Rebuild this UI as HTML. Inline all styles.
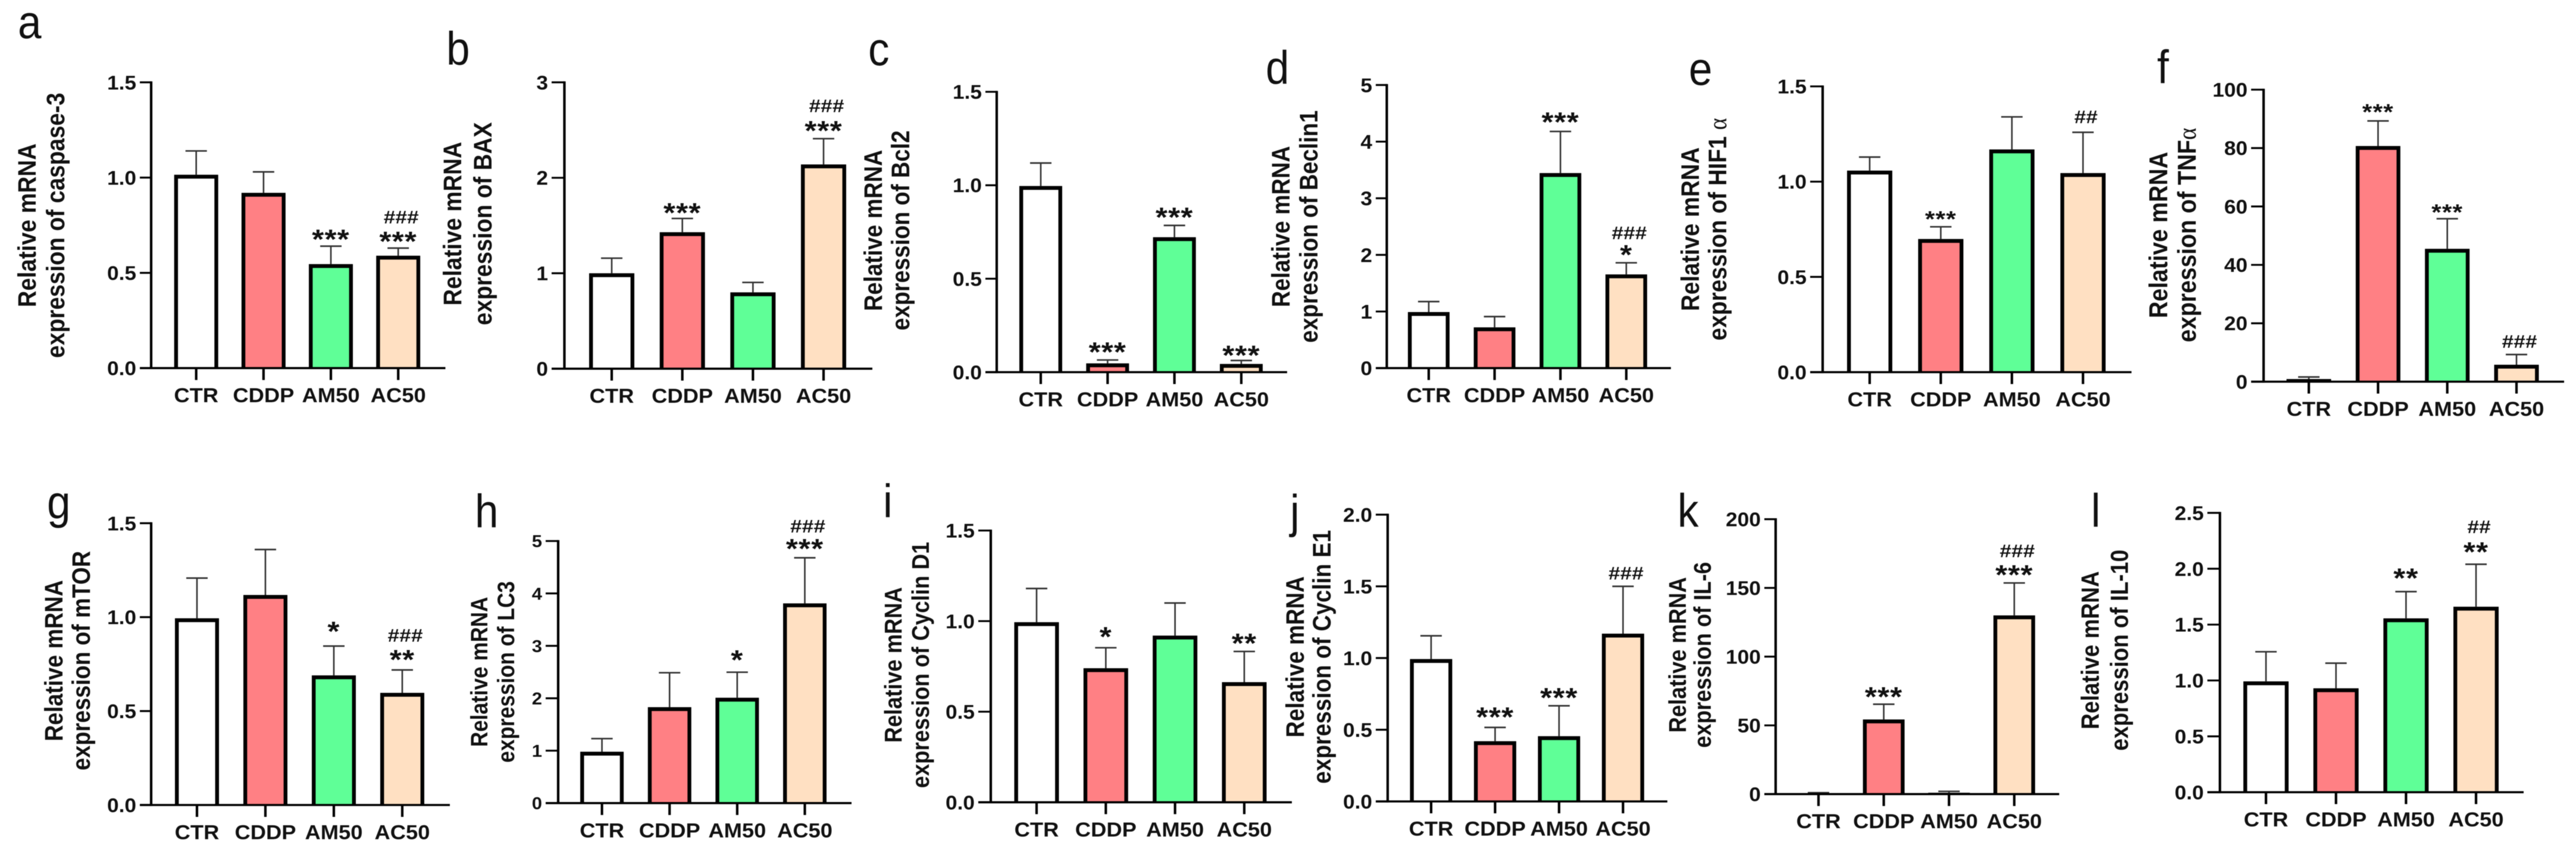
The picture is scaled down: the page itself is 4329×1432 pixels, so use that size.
<!DOCTYPE html>
<html lang="en">
<head>
<meta charset="utf-8">
<title>Relative mRNA expression panels</title>
<style>
  html, body { margin: 0; padding: 0; background: #fff; width: 4329px; height: 1432px; overflow: hidden; }
  svg { display: block; filter: blur(0.6px); }
  text { font-family: "Liberation Sans", sans-serif; fill: #111; }
</style>
</head>
<body>
<svg id="figure" xmlns="http://www.w3.org/2000/svg" width="4329" height="1432" viewBox="0 0 4329 1432"></svg>
<script>
// ---- Data ----
const categories = ['CTR', 'CDDP', 'AM50', 'AC50'];

const ticksA = ['0.0', '0.5', '1.0', '1.5'];
const valuesA = [1.015, 0.92, 0.546, 0.59];
const whiskersA = [1.14, 1.03, 0.64, 0.63];
const starsA = ['', '', '***', '***'];
const hashesA = ['', '', '', '###'];

const ticksB = ['0', '1', '2', '3'];
const valuesB = [1.0, 1.43, 0.80, 2.14];
const whiskersB = [1.158, 1.574, 0.904, 2.41];
const starsB = ['', '***', '', '***'];
const hashesB = ['', '', '', '###'];

const ticksC = ['0.0', '0.5', '1.0', '1.5'];
const valuesC = [0.996, 0.047, 0.722, 0.044];
const whiskersC = [1.119, 0.065, 0.785, 0.0625];
const starsC = ['', '***', '***', '***'];
const hashesC = ['', '', '', ''];

const ticksD = ['0', '1', '2', '3', '4', '5'];
const valuesD = [0.99, 0.72, 3.445, 1.655];
const whiskersD = [1.175, 0.91, 4.18, 1.86];
const starsD = ['', '', '***', '*'];
const hashesD = ['', '', '', '###'];

const ticksE = ['0.0', '0.5', '1.0', '1.5'];
const valuesE = [1.058, 0.699, 1.169, 1.045];
const whiskersE = [1.129, 0.763, 1.34, 1.259];
const starsE = ['', '***', '', ''];
const hashesE = ['', '', '', '##'];

const ticksF = ['0', '20', '40', '60', '80', '100'];
const valuesF = [0.9, 80.7, 45.5, 5.8];
const whiskersF = [1.6, 89.3, 55.8, 9.3];
const starsF = ['', '***', '***', ''];
const hashesF = ['', '', '', '###'];

const ticksG = ['0.0', '0.5', '1.0', '1.5'];
const valuesG = [0.994, 1.118, 0.69, 0.597];
const whiskersG = [1.208, 1.36, 0.846, 0.719];
const starsG = ['', '', '*', '**'];
const hashesG = ['', '', '', '###'];

const ticksH = ['0', '1', '2', '3', '4', '5'];
const valuesH = [0.98, 1.83, 2.01, 3.81];
const whiskersH = [1.23, 2.487, 2.497, 4.68];
const starsH = ['', '', '*', '***'];
const hashesH = ['', '', '', '###'];

const ticksI = ['0.0', '0.5', '1.0', '1.5'];
const valuesI = [0.994, 0.74, 0.92, 0.663];
const whiskersI = [1.18, 0.853, 1.10, 0.8325];
const starsI = ['', '*', '', '**'];
const hashesI = ['', '', '', ''];

const ticksJ = ['0.0', '0.5', '1.0', '1.5', '2.0'];
const valuesJ = [0.993, 0.42, 0.455, 1.17];
const whiskersJ = [1.155, 0.516, 0.667, 1.50];
const starsJ = ['', '***', '***', ''];
const hashesJ = ['', '', '', '###'];

const ticksK = ['0', '50', '100', '150', '200'];
const valuesK = [0.6, 54.3, 1.0, 130];
const whiskersK = [1.0, 65.4, 2.0, 153.6];
const starsK = ['', '***', '', '***'];
const hashesK = ['', '', '', '###'];

const ticksL = ['0.0', '0.5', '1.0', '1.5', '2.0', '2.5'];
const valuesL = [0.992, 0.93, 1.556, 1.66];
const whiskersL = [1.257, 1.155, 1.795, 2.04];
const starsL = ['', '', '**', '**'];
const hashesL = ['', '', '', '##'];

// ---- Layout (pixel geometry of each panel, independent of the data) ----
const barFills = ['#ffffff', '#ff8084', '#5fff97', '#ffe0c2'];
const LABEL_SX = 1.07;
const TITLE_SX = 1.12;

const panels = [
  { id: 'a', ticks: ticksA, values: valuesA, whiskers: whiskersA, stars: starsA, hashes: hashesA,
    letter: [30, 64], axisX: 254, top: 138.4, base: 618.7, tickLeft: 235, xEnd: 748.5, c1: 329.7, c4: 669.2, barW: 74,
    title: ['Relative mRNA', 'expression of caspase-3'], titleX: [60, 108], titleY: 378.8, titleSize: 38.4,
    starGap: [0, 0, 21, 21], hashGap: [0, 0, 0, 53] },
  { id: 'b', ticks: ticksB, values: valuesB, whiskers: whiskersB, stars: starsB, hashes: hashesB,
    letter: [750, 108.7], axisX: 948.5, top: 138.4, base: 619.7, tickLeft: 927, xEnd: 1466, c1: 1028, c4: 1384, barW: 76,
    title: ['Relative mRNA', 'expression of BAX'], titleX: [775, 826], titleY: 376, titleSize: 38.4,
    starGap: [0, 19, 0, 23], hashGap: [0, 0, 0, 56] },
  { id: 'c', ticks: ticksC, values: valuesC, whiskers: whiskersC, stars: starsC, hashes: hashesC,
    letter: [1459, 109.4], axisX: 1675, top: 154.3, base: 625.5, tickLeft: 1656, xEnd: 2163, c1: 1749, c4: 2086, barW: 72,
    title: ['Relative mRNA', 'expression of Bcl2'], titleX: [1482, 1528], titleY: 387.3, titleSize: 37.8,
    starGap: [0, 23, 23, 18], hashGap: [0, 0, 0, 0] },
  { id: 'd', ticks: ticksD, values: valuesD, whiskers: whiskersD, stars: starsD, hashes: hashesD,
    letter: [2127, 140.6], axisX: 2330.5, top: 142.9, base: 618.7, tickLeft: 2312, xEnd: 2808, c1: 2401, c4: 2733, barW: 70,
    title: ['Relative mRNA', 'expression of Beclin1'], titleX: [2167, 2214], titleY: 380.8, titleSize: 37.8,
    starGap: [0, 0, 25, 23], hashGap: [0, 0, 0, 51] },
  { id: 'e', ticks: ticksE, values: valuesE, whiskers: whiskersE, stars: starsE, hashes: hashesE,
    letter: [2838, 142.5], axisX: 3063, top: 145.2, base: 625.5, tickLeft: 3042, xEnd: 3582, c1: 3142, c4: 3500.5, barW: 76,
    title: ['Relative mRNA', 'expression of HIF1 α'], titleX: [2855, 2901], titleY: 385.3, titleSize: 38.4, starSize: 38,
    starGap: [0, 21, 0, 0], hashGap: [0, 0, 0, 27] },
  { id: 'f', ticks: ticksF, values: valuesF, whiskers: whiskersF, stars: starsF, hashes: hashesF,
    letter: [3625, 139.3], axisX: 3804, top: 150.7, base: 641.5, tickLeft: 3783, xEnd: 4309, c1: 3880, c4: 4229, barW: 75,
    title: ['Relative mRNA', 'expression of TNFα'], titleX: [3642, 3690], titleY: 395, titleSize: 39, starSize: 38,
    starGap: [0, 23, 19, 0], hashGap: [0, 0, 0, 23] },
  { id: 'g', ticks: ticksG, values: valuesG, whiskers: whiskersG, stars: starsG, hashes: hashesG,
    letter: [79, 871], axisX: 254, top: 879.4, base: 1353, tickLeft: 235, xEnd: 756, c1: 331, c4: 676, barW: 74,
    title: ['Relative mRNA', 'expression of mTOR'], titleX: [105, 151], titleY: 1110.4, titleSize: 37.8,
    starGap: [0, 0, 34, 27], hashGap: [0, 0, 0, 59] },
  { id: 'h', ticks: ticksH, values: valuesH, whiskers: whiskersH, stars: starsH, hashes: hashesH,
    letter: [798, 885.9], axisX: 938, top: 909.3, base: 1349.8, tickLeft: 917, xEnd: 1431, c1: 1011.6, c4: 1352.5, barW: 73,
    title: ['Relative mRNA', 'expression of LC3'], titleX: [819, 864], titleY: 1129.3, titleSize: 35.2, tickSize: 29,
    starGap: [0, 0, 30, 25], hashGap: [0, 0, 0, 54] },
  { id: 'i', ticks: ticksI, values: valuesI, whiskers: whiskersI, stars: starsI, hashes: hashesI,
    letter: [1484, 869], axisX: 1665, top: 891.7, base: 1348.4, tickLeft: 1644, xEnd: 2171, c1: 1742, c4: 2091, barW: 75,
    title: ['Relative mRNA', 'expression of Cyclin D1'], titleX: [1515, 1561], titleY: 1117.6, titleSize: 36.5,
    starGap: [0, 28, 0, 23], hashGap: [0, 0, 0, 0] },
  { id: 'j', ticks: ticksJ, values: valuesJ, whiskers: whiskersJ, stars: starsJ, hashes: hashesJ,
    letter: [2168, 886.5], axisX: 2332, top: 865, base: 1347, tickLeft: 2312, xEnd: 2802, c1: 2405, c4: 2727.5, barW: 71,
    title: ['Relative mRNA', 'expression of Cyclin E1'], titleX: [2191, 2236], titleY: 1104, titleSize: 37.8,
    starGap: [0, 27, 23, 0], hashGap: [0, 0, 0, 23] },
  { id: 'k', ticks: ticksK, values: valuesK, whiskers: whiskersK, stars: starsK, hashes: hashesK,
    letter: [2819, 885], axisX: 2984, top: 872.6, base: 1334.7, tickLeft: 2965, xEnd: 3460.5, c1: 3056, c4: 3385, barW: 70,
    title: ['Relative mRNA', 'expression of IL-6'], titleX: [2833, 2875], titleY: 1100.7, titleSize: 36.5,
    starGap: [0, 22, 0, 23], hashGap: [0, 0, 0, 55] },
  { id: 'l', ticks: ticksL, values: valuesL, whiskers: whiskersL, stars: starsL, hashes: hashesL,
    letter: [3514, 885], axisX: 3730.6, top: 862, base: 1331.5, tickLeft: 3709.5, xEnd: 4241, c1: 3808, c4: 4161, barW: 76,
    title: ['Relative mRNA', 'expression of IL-10'], titleX: [3527, 3576], titleY: 1092.9, titleSize: 37.1,
    starGap: [0, 0, 32, 30], hashGap: [0, 0, 0, 64] }
];

// ---- Drawing ----
const NS = 'http://www.w3.org/2000/svg';
const root = document.getElementById('figure');

function make(tag, attrs, parent) {
  const el = document.createElementNS(NS, tag);
  for (const k in attrs) el.setAttribute(k, attrs[k]);
  parent.appendChild(el);
  return el;
}

function stretched(x, y, sx, extra) {
  return 'translate(' + x + ' ' + y + ') scale(' + sx + ' 1)' + (extra || '');
}

panels.forEach(function (p) {
  const yMax = Number(p.ticks[p.ticks.length - 1]);
  const yScale = function (v) { return p.base - (v / yMax) * (p.base - p.top); };
  const xScale = function (i) { return p.c1 + i * (p.c4 - p.c1) / (categories.length - 1); };

  const g = make('g', {}, root);
  
  

  // panel letter
  const letter = make('text', { transform: stretched(p.letter[0], p.letter[1], 0.9), 'font-size': 79 }, g);
  letter.textContent = p.id;
  
  

  // y-axis title (two rotated lines)
  p.title.forEach(function (line, li) {
    const t = make('text', {
      transform: stretched(p.titleX[li], p.titleY, TITLE_SX, ' rotate(-90)'),
      'font-size': p.titleSize, 'font-weight': 'bold', 'text-anchor': 'middle'
    }, g);
    
    
    const parts = line.split('α');
    t.appendChild(document.createTextNode(parts[0]));
    if (parts.length > 1) {
      const a = make('tspan', { 'font-family': '"Liberation Serif", serif', 'font-weight': 'normal' }, t);
      a.textContent = 'α';
    }
  });

  // bars, whiskers, significance marks
  categories.forEach(function (cat, i) {
    const cx = xScale(i);
    const yTop = yScale(p.values[i]);
    const yWhisk = yScale(p.whiskers[i]);

    const stem = make('line', { x1: cx, x2: cx, y1: yTop, y2: yWhisk, stroke: '#333', 'stroke-width': 2.6 }, g);
    
    

    const cap = make('line', { x1: cx - 18, x2: cx + 18, y1: yWhisk, y2: yWhisk, stroke: '#333', 'stroke-width': 2.7 }, g);
    
    

    const outer = make('rect', { x: cx - p.barW / 2, y: yTop, width: p.barW, height: Math.max(0, p.base - yTop), fill: '#000' }, g);
    
    

    const innerTop = yTop + 6.5;
    const innerH = Math.max(0, p.base - innerTop);
    const inner = make('rect', { x: cx - p.barW / 2 + 6.4, y: innerTop, width: p.barW - 12.8, height: innerH, fill: barFills[i] }, g);
    
    

    if (p.stars[i]) {
      const size = p.starSize || 46;
      const s = make('text', {
        transform: stretched(cx, yWhisk - p.starGap[i] + 0.55 * size, 1.12),
        'font-size': size, 'font-weight': 'bold', 'text-anchor': 'middle', 'letter-spacing': 1
      }, g);
      s.textContent = p.stars[i];
      
      
    }
    if (p.hashes[i]) {
      const h = make('text', {
        transform: stretched(cx + 5, yWhisk - p.hashGap[i] + 11.5, 1.14),
        'font-size': 31, 'font-weight': 'bold', 'text-anchor': 'middle'
      }, g);
      h.textContent = p.hashes[i];
      
      
    }

    const xt = make('line', { x1: cx, x2: cx, y1: p.base, y2: p.base + 20, stroke: '#000', 'stroke-width': 4.2 }, g);
    
    

    const xl = make('text', { transform: stretched(cx, p.base + 57.5, LABEL_SX), 'font-size': 34, 'font-weight': 'bold', 'text-anchor': 'middle' }, g);
    xl.textContent = cat;
    
    
  });

  // axes
  const yAxis = make('line', { x1: p.axisX, x2: p.axisX, y1: p.top - 1.6, y2: p.base + 1.6, stroke: '#000', 'stroke-width': 4.2 }, g);
  
  

  const xAxis = make('line', { x1: p.tickLeft, x2: p.xEnd, y1: p.base, y2: p.base, stroke: '#000', 'stroke-width': 3.6 }, g);
  
  

  p.ticks.forEach(function (label) {
    const y = yScale(Number(label));
    const tick = make('line', { x1: p.tickLeft, x2: p.axisX, y1: y, y2: y, stroke: '#000', 'stroke-width': 3.2 }, g);
    
    

    const size = p.tickSize || 33;
    const tl = make('text', {
      transform: stretched(p.tickLeft - 6, y + 0.36 * size, LABEL_SX),
      'font-size': size, 'font-weight': 'bold', 'text-anchor': 'end'
    }, g);
    tl.textContent = label;
    
    
  });
});
</script>
</body>
</html>
